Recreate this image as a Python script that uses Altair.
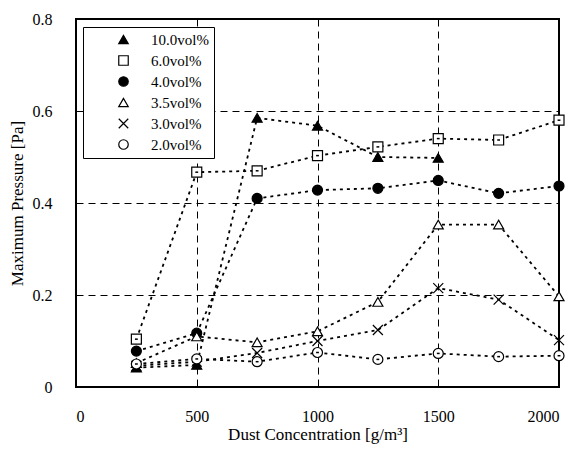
import altair as alt
import pandas as pd

conc = [250, 500, 750, 1000, 1250, 1500, 1750, 2000]
series_names = ["10.0vol%", "6.0vol%", "4.0vol%", "3.5vol%", "3.0vol%", "2.0vol%"]
p100 = [0.042, 0.048, 0.585, 0.568, 0.500, 0.498, None, None]
p60 = [0.104, 0.467, 0.470, 0.503, 0.522, 0.540, 0.537, 0.580]
p40 = [0.078, 0.117, 0.410, 0.428, 0.432, 0.449, 0.421, 0.437]
p35 = [0.052, 0.110, 0.097, 0.121, 0.185, 0.353, 0.353, 0.197]
p30 = [0.046, 0.055, 0.074, 0.100, 0.124, 0.215, 0.190, 0.102]
p20 = [0.050, 0.061, 0.055, 0.075, 0.060, 0.073, 0.066, 0.068]

rows = []
for name, vals in zip(series_names, [p100, p60, p40, p35, p30, p20]):
    for c, v in zip(conc, vals):
        if v is not None:
            rows.append({"series": name, "conc": c, "p": v})
df = pd.DataFrame(rows)

FONT = "Liberation Serif"
xpath = "M-1,-1L1,1M-1,1L1,-1"
shapes = ["triangle-up", "square", "circle", "triangle-up", xpath, "circle"]
fills = ["black", "white", "black", "white", "white", "white"]
strokes = ["black"] * 6

x = alt.X("conc:Q", scale=alt.Scale(domain=[0, 2000], nice=False),
          axis=alt.Axis(title="Dust Concentration [g/m³]", values=[0, 500, 1000, 1500, 2000],
                        format="d", labelPadding=21, titlePadding=2, titleFontSize=17))
y = alt.Y("p:Q", scale=alt.Scale(domain=[0, 0.8], nice=False),
          axis=alt.Axis(title="Maximum Pressure [Pa]", values=[0, 0.2, 0.4, 0.6, 0.8],
                        labelExpr="datum.value == 0 ? '0' : format(datum.value, '.1f')",
                        labelPadding=24, titlePadding=6, titleFontSize=17))

leg = alt.Legend(title=None, orient="none", legendX=7, legendY=8,
                 fillColor="white", strokeColor="black", padding=5,
                 labelFont=FONT, labelFontSize=15, labelColor="black",
                 symbolSize=90, symbolStrokeWidth=1.2,
                 rowPadding=5, symbolOffset=28, labelOffset=20)

lines = alt.Chart(df).mark_line(color="black", strokeDash=[3, 4], strokeWidth=1.8).encode(
    x=x, y=y, detail="series:N")

points = alt.Chart(df).mark_point(filled=True, strokeWidth=1.2, size=100, opacity=1).encode(
    x=x, y=y,
    stroke=alt.Stroke("series:N", sort=series_names,
                      scale=alt.Scale(domain=series_names, range=strokes), legend=leg),
    shape=alt.Shape("series:N", sort=series_names,
                    scale=alt.Scale(domain=series_names, range=shapes), legend=leg),
    fill=alt.Fill("series:N", sort=series_names,
                  scale=alt.Scale(domain=series_names, range=fills), legend=leg),
)

inner = alt.Chart(df).transform_filter(
    alt.FieldOneOfPredicate(field="series", oneOf=["6.0vol%", "2.0vol%"])
).mark_point(shape="M-1,0L1,0", stroke="black", strokeWidth=1.5, size=8, opacity=1).encode(x=x, y=y)

chart = alt.layer(lines, points, inner).properties(
    width=483, height=368,
    autosize=alt.AutoSizeParams(type="none"),
    padding={"left": 68, "top": 11, "right": 9, "bottom": 61},
).configure_view(stroke="black", strokeWidth=2).configure_axis(
    grid=True, gridColor="black", gridDash=[7, 5], gridWidth=1, gridOpacity=1,
    ticks=False, domain=False,
    labelFont=FONT, labelFontSize=16, labelColor="black",
    titleFont=FONT, titleColor="black", titleFontWeight="normal",
)

chart.save("out.html", embed_options={"renderer": "svg", "actions": False})
